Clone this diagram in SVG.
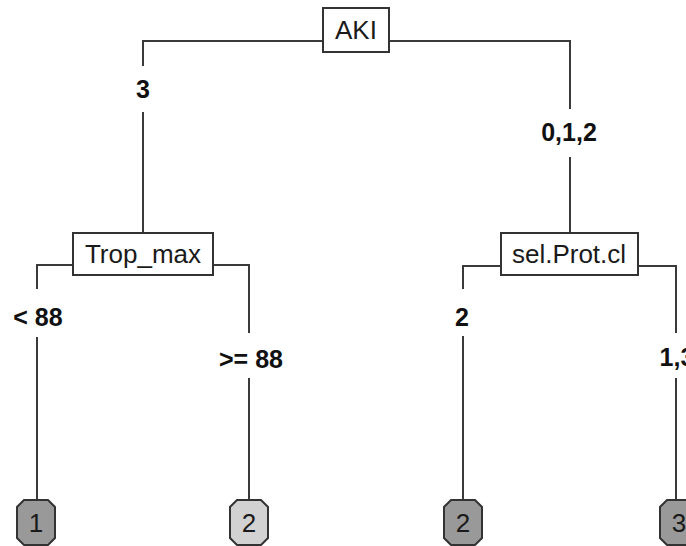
<svg xmlns="http://www.w3.org/2000/svg" width="686" height="546" viewBox="0 0 686 546">
<style>
.edge{fill:none;stroke:#3a3a3a;stroke-width:2}
.box{fill:#fff;stroke:#333;stroke-width:2}
.nt{font-family:"Liberation Sans",Arial,sans-serif;font-size:26px;fill:#1a1a1a;text-anchor:middle}
.el{font-family:"Liberation Sans",Arial,sans-serif;font-size:25px;font-weight:bold;fill:#111;text-anchor:middle}
.leafD{fill:#999;stroke:#333;stroke-width:2}
.leafL{fill:#d2d2d2;stroke:#333;stroke-width:2}
</style>
<g id="connectors">
<path class="edge" d="M323,41 H143 V66 M143,112 V233"/>
<path class="edge" d="M389,41 H570 V109 M570,157 V233"/>
<path class="edge" d="M73,265 H37 V289 M37,337 V500"/>
<path class="edge" d="M213,265 H249 V333 M249,378 V500"/>
<path class="edge" d="M501,266 H463 V289 M463,336 V500"/>
<path class="edge" d="M638,266 H676 V333 M676,378 V500"/>
<text class="el" x="143" y="98">3</text>
<text class="el" x="569" y="141">0,1,2</text>
<text class="el" x="38" y="326">&lt; 88</text>
<text class="el" x="251" y="368">&gt;= 88</text>
<text class="el" x="462" y="326">2</text>
<text class="el" x="677" y="366">1,3</text>
</g>
<g id="node-AKI">
<rect class="box" x="323" y="8" width="66" height="44"/>
<text class="nt" x="356" y="39">AKI</text>
</g>
<g id="node-Trop_max">
<rect class="box" x="73" y="233" width="140" height="42"/>
<text class="nt" x="143" y="263">Trop_max</text>
</g>
<g id="node-sel.Prot.cl">
<rect class="box" x="501" y="233" width="137" height="42"/>
<text class="nt" x="569" y="263">sel.Prot.cl</text>
</g>
<g id="leaf-1">
<path class="leafD" d="M24,500 H48 L55,507 V538 L48,545 H24 L17,538 V507 Z"/>
<text class="nt" x="36" y="532">1</text>
</g>
<g id="leaf-2a">
<path class="leafL" d="M237,500 H261 L268,507 V538 L261,545 H237 L230,538 V507 Z"/>
<text class="nt" x="249" y="532">2</text>
</g>
<g id="leaf-2b">
<path class="leafD" d="M451,500 H475 L482,507 V538 L475,545 H451 L444,538 V507 Z"/>
<text class="nt" x="463" y="532">2</text>
</g>
<g id="leaf-3">
<path class="leafD" d="M667,500 H691 L698,507 V538 L691,545 H667 L660,538 V507 Z"/>
<text class="nt" x="679" y="532">3</text>
</g>
</svg>
